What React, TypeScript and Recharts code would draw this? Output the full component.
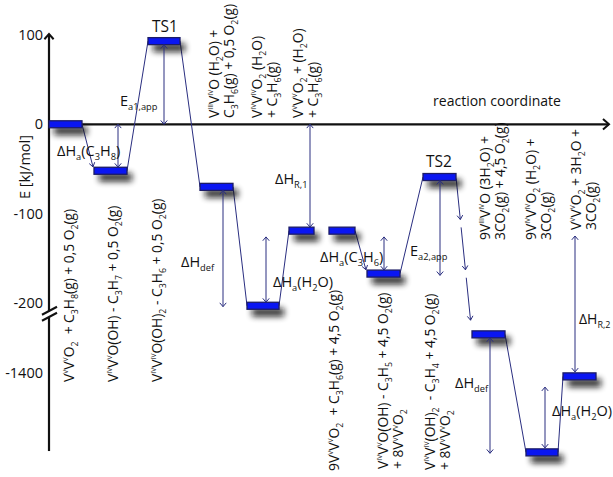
import React from 'react';
import { ComposedChart, XAxis, YAxis, ReferenceLine, ReferenceDot } from 'recharts';

const FONT = '"Open Sans", "Noto Sans", sans-serif';
const NAVY = '#2a2e80';
const BAR_FILL = '#0a16f2';
const BAR_EDGE = '#1c1c66';
const INK = '#111111';

// ---------- data ----------
// reaction-coordinate extent of each state and its energy (kJ/mol)
const stateStart = [0, 45, 99, 151, 198, 240, 280, 318, 374, 423, 477, 514];
const stateEnd = [33, 78, 131, 184, 230, 265, 306, 351, 407, 456, 509, 547];
const stateEnergy = [0, -52, 93, -70, -203, -119, -119, -167, -59, -1357, -1489, -1404];

// y axis ticks (broken axis)
const yTickValues = [100, 0, -100, -200, -1400];
const yTickLabels = ['100', '0', '-100', '-200', '-1400'];

// connectors between consecutive states
const connFrom = [0, 1, 2, 3, 4, 6, 7, 9, 10];
const connTo = [1, 2, 3, 4, 5, 7, 8, 10, 11];
const connArrow = [true, false, false, false, false, true, false, false, false];

// energy differences (double arrows)
const gapX = [69, 115, 174, 217, 261, 335, 391, 441, 496, 526];
const gapTop = [0, 89, -74, -126, 0, -126, -63, -1361, -1416, -125];
const gapBottom = [-48, 0, -204, -199, -115, -163, -169, -1490, -1484, -1399];

// annotation texts
const annoText = [
  'ΔH_{a}(C_{3}H_{8})', 'E_{a1,app}', 'ΔH_{R,1}', 'ΔH_{def}', 'ΔH_{a}(H_{2}O)',
  'ΔH_{a}(C_{3}H_{6})', 'E_{a2,app}', 'ΔH_{def}', 'ΔH_{R,2}', 'ΔH_{a}(H_{2}O)',
];
const annoX = [8, 71, 226, 132, 224, 271, 361, 406, 530, 503];
const annoY = [-35.5, 20.5, -66.8, -159.6, -182, -154, -147.3, -295, -223.3, -326.3];

// species labels (rotated)
const speciesLines = [
  ['V^{V}V^{V}O_{2}  + C_{3}H_{8}(g) + 0,5 O_{2}(g)'],
  ['V^{IV}V^{V}O(OH) - C_{3}H_{7} + 0,5 O_{2}(g)'],
  ['V^{IV}V^{IV}O(OH)_{2} - C_{3}H_{6} + 0,5 O_{2}(g)'],
  ['V^{III}V^{IV}O (H_{2}O) +', 'C_{3}H_{6}(g) + 0,5 O_{2}(g)'],
  ['V^{IV}V^{IV}O_{2} (H_{2}O)', '+ C_{3}H_{6}(g)'],
  ['V^{V}V^{V}O_{2} + (H_{2}O)', '+ C_{3}H_{6}(g)'],
  ['9V^{V}V^{V}O_{2}  + C_{3}H_{6}(g) + 4,5 O_{2}(g)'],
  ['V^{IV}V^{V}O(OH) - C_{3}H_{5} + 4,5 O_{2}(g)', '+ 8V^{V}V^{V}O_{2}'],
  ['V^{IV}V^{IV}(OH)_{2}  - C_{3}H_{4} + 4,5 O_{2}(g)', '+ 8V^{V}V^{V}O_{2}'],
  ['9V^{III}V^{IV}O (3H_{2}O) +', '3CO_{2}(g) + 4,5 O_{2}(g)'],
  ['9V^{IV}V^{IV}O_{2} (H_{2}O) +', '3CO_{2}(g)'],
  ['V^{V}V^{V}O_{2} + 3H_{2}O +', '3CO_{2}(g)'],
];
const speciesX = [20, 64, 108, 165, 208, 249, 285, 334, 381, 436, 482, 527];
const speciesY = [-288.3, -288.3, -288.3, 7, 7, 7, -387.8, -385.6, -386.7, -129.4, -129.4, -118.2];

// ---------- helpers ----------
const BREAK_SHIFT = 1122;
const toAxis = (e: number) => (e < -1000 ? e + BREAK_SHIFT : e);

type Seg = { t: string; k: 'n' | 'sub' | 'sup' };
function parseRich(s: string): Seg[] {
  const out: Seg[] = [];
  const re = /([_^])\{([^}]*)\}/g;
  let last = 0;
  let m: RegExpExecArray | null;
  while ((m = re.exec(s))) {
    if (m.index > last) out.push({ t: s.slice(last, m.index), k: 'n' });
    out.push({ t: m[2], k: m[1] === '_' ? 'sub' : 'sup' });
    last = re.lastIndex;
  }
  if (last < s.length) out.push({ t: s.slice(last), k: 'n' });
  return out;
}

function richSpans(s: string, fs: number) {
  const segs = parseRich(s);
  let cur = 0;
  return segs.map((g, i) => {
    const target = g.k === 'sub' ? fs * 0.3 : g.k === 'sup' ? -fs * 0.42 : 0;
    const dy = target - cur;
    cur = target;
    const size = g.k === 'n' ? fs : g.k === 'sub' ? fs * 0.64 : fs * 0.5;
    return (
      <tspan key={i} dy={dy} fontSize={size} style={{ whiteSpace: 'pre' }}>
        {g.t}
      </tspan>
    );
  });
}

const Chevron = ({ x, y, angle, size = 5, spread = 0.7, color = NAVY, sw = 1 }: any) => {
  const a1 = angle + Math.PI - spread;
  const a2 = angle + Math.PI + spread;
  const p1 = `${x + size * Math.cos(a1)},${y + size * Math.sin(a1)}`;
  const p2 = `${x + size * Math.cos(a2)},${y + size * Math.sin(a2)}`;
  return <polyline points={`${p1} ${x},${y} ${p2}`} fill="none" stroke={color} strokeWidth={sw} />;
};

const YAxisTopShape = (p: any) => {
  const { x1, y1, x2, y2 } = p;
  return (
    <g>
      <line x1={x1} y1={y1} x2={x2} y2={y2} stroke={INK} strokeWidth={2.2} />
      <Chevron x={x1} y={y1} angle={-Math.PI / 2} size={7} spread={0.72} color={INK} sw={2} />
    </g>
  );
};

const PlainAxisShape = (p: any) => (
  <line x1={p.x1} y1={p.y1} x2={p.x2} y2={p.y2} stroke={INK} strokeWidth={2.2} />
);

const XAxisShape = (p: any) => {
  const { x1, y1, x2, y2 } = p;
  return (
    <g>
      <line x1={x1} y1={y1} x2={x2} y2={y2} stroke={INK} strokeWidth={2.2} />
      <Chevron x={x2} y={y2} angle={0} size={8} spread={0.72} color={INK} sw={2} />
    </g>
  );
};

const BreakShape = (p: any) => {
  const { cx, cy } = p;
  return (
    <g stroke={INK} strokeWidth={2}>
      <line x1={cx - 7} y1={cy + 0.5} x2={cx + 8} y2={cy - 7.5} />
      <line x1={cx - 7} y1={cy + 6.5} x2={cx + 8} y2={cy - 1.5} />
    </g>
  );
};

const LevelShape = (p: any) => {
  const { x1, x2, y1 } = p;
  const w = x2 - x1;
  const h = 7;
  const id = `lvlShadow${Math.round(x1)}_${Math.round(y1)}`;
  return (
    <g>
      <defs>
        <filter id={id} filterUnits="userSpaceOnUse" x={x1 - 15} y={y1 - 15} width={w + 40} height={45}>
          <feGaussianBlur stdDeviation="3.4" />
        </filter>
      </defs>
      <rect x={x1 + 5} y={y1 - h / 2 + 6} width={w} height={h + 1} fill="#111" opacity={0.9} filter={`url(#${id})`} />
      <rect x={x1} y={y1 - h / 2} width={w} height={h} fill={BAR_FILL} stroke={BAR_EDGE} strokeWidth={1.3} />
    </g>
  );
};

const makeConnector = (arrow: boolean) => (p: any) => {
  const { x1, y1, x2, y2 } = p;
  const ang = Math.atan2(y2 - y1, x2 - x1);
  const pull = arrow ? 4 : 0;
  const tx = x2 - pull * Math.cos(ang);
  const ty = y2 - pull * Math.sin(ang);
  return (
    <g>
      <line x1={x1} y1={y1} x2={tx} y2={ty} stroke={NAVY} strokeWidth={1} />
      {arrow && <Chevron x={tx} y={ty} angle={ang} size={5} spread={0.6} />}
    </g>
  );
};

const ArrowSegShape = (p: any) => {
  const { x1, y1, x2, y2 } = p;
  const ang = Math.atan2(y2 - y1, x2 - x1);
  return (
    <g>
      <line x1={x1} y1={y1} x2={x2} y2={y2} stroke={NAVY} strokeWidth={1} />
      <Chevron x={x2} y={y2} angle={ang} size={5} spread={0.6} />
    </g>
  );
};

const DoubleArrowShape = (p: any) => {
  const { x1, y1, x2, y2 } = p;
  const ang = Math.atan2(y2 - y1, x2 - x1);
  return (
    <g>
      <line x1={x1} y1={y1} x2={x2} y2={y2} stroke={NAVY} strokeWidth={1} />
      <Chevron x={x2} y={y2} angle={ang} size={5} spread={0.7} />
      <Chevron x={x1} y={y1} angle={ang + Math.PI} size={5} spread={0.7} />
    </g>
  );
};

const makeAnno = (text: string, fs: number, anchor: 'start' | 'middle') => (p: any) => (
  <text x={p.cx} y={p.cy} fontSize={fs} fontFamily={FONT} fill={INK} textAnchor={anchor} style={{ whiteSpace: 'pre' }}>
    {richSpans(text, fs)}
  </text>
);

const makeSpecies = (lines: string[]) => (p: any) => {
  const fs = 13.8;
  return (
    <g transform={`translate(${p.cx},${p.cy}) rotate(-90)`}>
      {lines.map((ln, i) => (
        <text key={i} x={0} y={4.8 + i * 15.5} fontSize={fs} fontFamily={FONT} fill={INK} textAnchor="start" style={{ whiteSpace: 'pre' }}>
          {richSpans(ln, fs)}
        </text>
      ))}
    </g>
  );
};

const YLabelShape = (p: any) => (
  <text transform={`translate(${p.cx + 5},${p.cy}) rotate(-90)`} fontSize={14.5} fontFamily={FONT} fill={INK} textAnchor="middle">
    E [kJ/mol]
  </text>
);

// dashed descent TS2 -> lowest branch, three arrow pieces along the path
const dropPieces = [
  [0.01, 0.27],
  [0.32, 0.59],
  [0.64, 0.91],
];

export default function App() {
  const ticksAxis = yTickValues.map(toAxis);
  const dx0 = stateEnd[8];
  const dy0 = toAxis(stateEnergy[8]);
  const dx1 = stateStart[9];
  const dy1 = toAxis(stateEnergy[9]);

  return (
    <div style={{ position: 'absolute', left: 0, top: 0, width: 613, height: 477, background: '#fff', fontFamily: FONT }}>
      <ComposedChart width={613} height={477} data={[{ x: 0, y: 0 }]} margin={{ top: 17, right: 4, bottom: 13, left: 0 }}>
        <XAxis type="number" dataKey="x" domain={[0, 560]} hide allowDataOverflow />
        <YAxis
          type="number"
          domain={[-380, 120]}
          allowDataOverflow
          width={49}
          ticks={ticksAxis}
          interval={0}
          axisLine={false}
          tickLine={false}
          tickSize={0}
          tickMargin={6}
          tick={{ fill: INK, fontSize: 14.5, fontFamily: FONT }}
          tickFormatter={(v: number) => yTickLabels[ticksAxis.indexOf(v)] ?? ''}
        />

        {/* axes */}
        <ReferenceLine segment={[{ x: 0, y: 101 }, { x: 0, y: -209 }]} shape={YAxisTopShape} ifOverflow="visible" />
        <ReferenceLine segment={[{ x: 0, y: -215.7 }, { x: 0, y: -365.5 }]} shape={PlainAxisShape} ifOverflow="visible" />
        <ReferenceLine segment={[{ x: 0, y: 0 }, { x: 560, y: 0 }]} shape={XAxisShape} ifOverflow="visible" />
        <ReferenceDot x={0} y={-212.5} shape={BreakShape} ifOverflow="visible" />

        {/* connectors */}
        {connFrom.map((f, i) => (
          <ReferenceLine
            key={`c${i}`}
            segment={[
              { x: stateEnd[f], y: toAxis(stateEnergy[f]) },
              { x: stateStart[connTo[i]], y: toAxis(stateEnergy[connTo[i]]) },
            ]}
            shape={makeConnector(connArrow[i])}
            ifOverflow="visible"
          />
        ))}
        {dropPieces.map(([a, b], i) => (
          <ReferenceLine
            key={`d${i}`}
            segment={[
              { x: dx0 + (dx1 - dx0) * a, y: dy0 + (dy1 - dy0) * a },
              { x: dx0 + (dx1 - dx0) * b, y: dy0 + (dy1 - dy0) * b },
            ]}
            shape={ArrowSegShape}
            ifOverflow="visible"
          />
        ))}

        {/* energy levels */}
        {stateEnergy.map((e, i) => (
          <ReferenceLine
            key={`l${i}`}
            segment={[
              { x: stateStart[i], y: toAxis(e) },
              { x: stateEnd[i], y: toAxis(e) },
            ]}
            shape={LevelShape}
            ifOverflow="visible"
          />
        ))}

        {/* energy differences */}
        {gapX.map((gx, i) => (
          <ReferenceLine
            key={`g${i}`}
            segment={[
              { x: gx, y: toAxis(gapTop[i]) },
              { x: gx, y: toAxis(gapBottom[i]) },
            ]}
            shape={DoubleArrowShape}
            ifOverflow="visible"
          />
        ))}

        {/* annotations */}
        {annoText.map((t, i) => (
          <ReferenceDot key={`a${i}`} x={annoX[i]} y={annoY[i]} shape={makeAnno(t, i === 8 ? 14 : 14.5, 'start')} ifOverflow="visible" />
        ))}
        <ReferenceDot x={116} y={103.2} shape={makeAnno('TS1', 15.5, 'middle')} ifOverflow="visible" />
        <ReferenceDot x={390} y={-47.8} shape={makeAnno('TS2', 15.5, 'middle')} ifOverflow="visible" />
        <ReferenceDot x={448} y={20.5} shape={makeAnno('reaction coordinate', 14, 'middle')} ifOverflow="visible" />
        <ReferenceDot x={-24} y={-47.8} shape={YLabelShape} ifOverflow="visible" />

        {/* species */}
        {speciesLines.map((lines, i) => (
          <ReferenceDot key={`s${i}`} x={speciesX[i]} y={speciesY[i]} shape={makeSpecies(lines)} ifOverflow="visible" />
        ))}
      </ComposedChart>
    </div>
  );
}
